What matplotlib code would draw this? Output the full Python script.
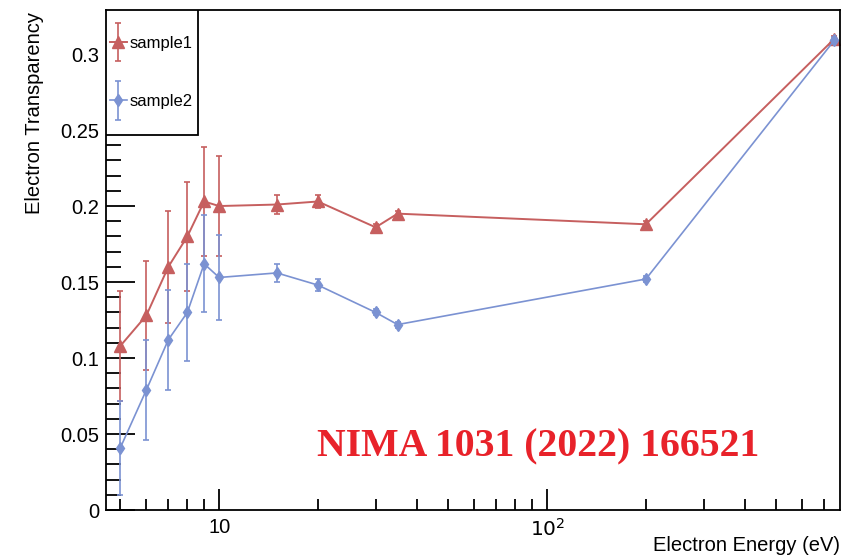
import matplotlib.pyplot as plt
from matplotlib.patches import Rectangle
from matplotlib.container import ErrorbarContainer
from matplotlib.legend_handler import HandlerErrorbar
from matplotlib.ticker import LogLocator, FixedLocator, MultipleLocator, NullFormatter

plt.rcParams['font.family'] = ['Liberation Sans', 'DejaVu Sans']

# Datos
energia = [5, 6, 7, 8, 9, 10, 15, 20, 30, 35, 200, 750]
sample1 = [0.108, 0.128, 0.160, 0.180, 0.203, 0.200, 0.201, 0.203, 0.186, 0.195, 0.188, 0.310]
err1 = [0.036, 0.036, 0.037, 0.036, 0.036, 0.033, 0.0065, 0.004, 0.002, 0.002, 0.002, 0.002]
sample2 = [0.041, 0.079, 0.112, 0.130, 0.162, 0.153, 0.156, 0.148, 0.130, 0.122, 0.152, 0.309]
err2 = [0.031, 0.033, 0.033, 0.032, 0.032, 0.028, 0.006, 0.004, 0.002, 0.002, 0.002, 0.002]

rojo = '#c65f5f'
azul = '#7b92d2'

fig = plt.figure(figsize=(8.55, 5.56), dpi=100)
ax = fig.add_axes([106 / 855, 46 / 556, 734 / 855, 500 / 556])

ax.errorbar(energia, sample1, yerr=err1, color=rojo, marker='^', markersize=8.5,
            lw=1.4, elinewidth=1.2, capsize=2.5, capthick=1.2, label='sample1')
ax.errorbar(energia, sample2, yerr=err2, color=azul, marker='d', markersize=6.5,
            lw=1.2, elinewidth=1.2, capsize=2.5, capthick=1.2, label='sample2')

ax.set_xscale('log')
ax.set_xlim(4.52, 781)
ax.set_ylim(0, 0.329)

ax.xaxis.set_major_locator(FixedLocator([10, 100]))
ax.set_xticklabels(['10', '$10^2$'])
ax.xaxis.set_minor_locator(LogLocator(base=10, subs=range(2, 10)))
ax.xaxis.set_minor_formatter(NullFormatter())
ax.yaxis.set_major_locator(MultipleLocator(0.05))
ax.yaxis.set_minor_locator(MultipleLocator(0.01))
ax.set_yticks([0, 0.05, 0.1, 0.15, 0.2, 0.25, 0.3])
ax.set_yticklabels(['0', '0.05', '0.1', '0.15', '0.2', '0.25', '0.3'])

ax.tick_params(axis='both', which='both', direction='in', top=False, right=False,
               labelsize=14.5, width=1.3)
ax.tick_params(axis='y', which='major', length=21, pad=5)
ax.tick_params(axis='y', which='minor', length=11)
ax.tick_params(axis='x', which='major', length=15, pad=6)
ax.tick_params(axis='x', which='minor', length=8)
for s in ax.spines.values():
    s.set_linewidth(1.3)

ax.set_xlabel('Electron Energy (eV)', fontsize=14.5, ha='right', va='top')
ax.xaxis.set_label_coords(1.0, -0.052)
ax.set_ylabel('Electron Transparency', fontsize=14.5, ha='right', va='bottom')
ax.yaxis.set_label_coords(-0.085, 0.995)

# caja de la leyenda (estilo ROOT)
caja = Rectangle((0, 1 - 125 / 500), 92 / 734, 125 / 500, transform=ax.transAxes,
                 facecolor='white', edgecolor='black', lw=1.3, zorder=4)
ax.add_patch(caja)
leg = ax.legend(loc='center left', bbox_to_anchor=(4 / 734, 0.875), fontsize=12,
                frameon=False, borderaxespad=0, borderpad=0, labelspacing=2.6,
                handlelength=1.0, handletextpad=0.2,
                handler_map={ErrorbarContainer: HandlerErrorbar(yerr_size=1.15)})
leg.set_zorder(5)

ax.text(0.288, 0.126, 'NIMA 1031 (2022) 166521', transform=ax.transAxes,
        color='#e8222a', fontsize=28.6, fontweight='bold', family='Liberation Serif',
        va='center', ha='left')

fig.savefig('out.png', dpi=100)
